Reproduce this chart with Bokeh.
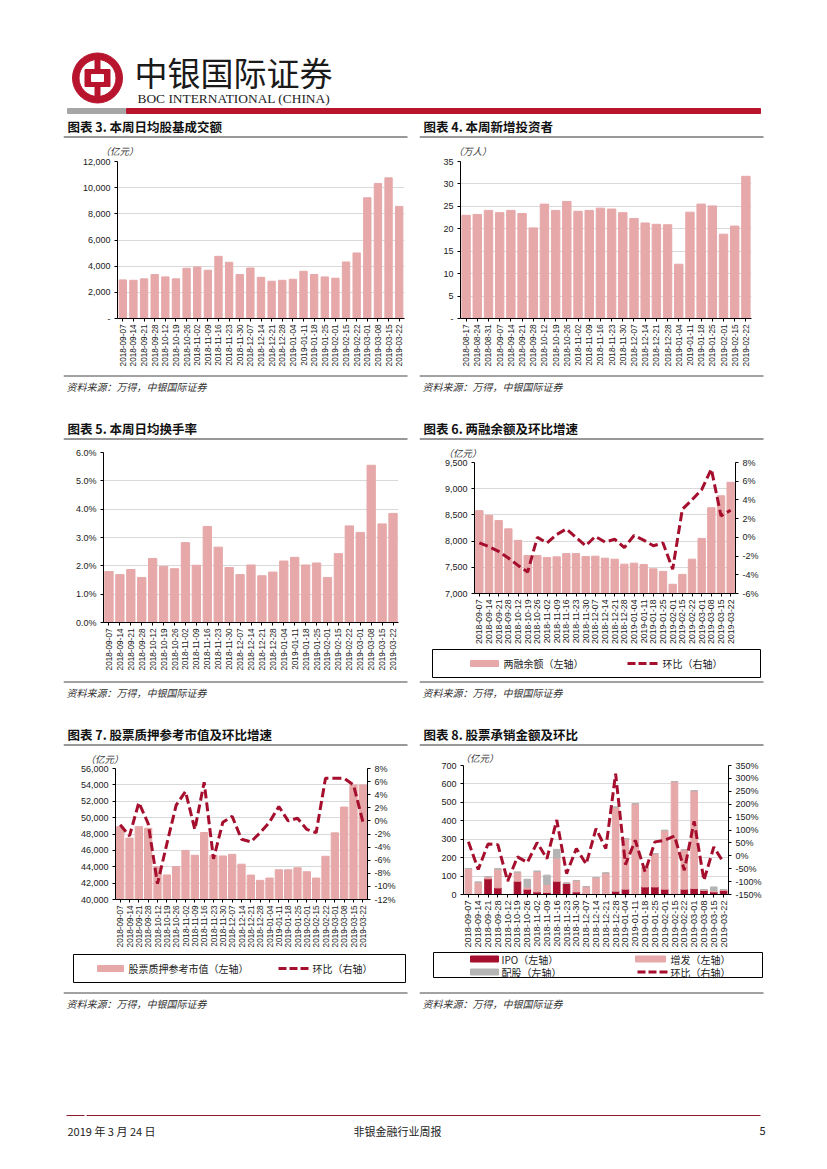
import math
from bokeh.plotting import figure
from bokeh.layouts import column, row
from bokeh.models import (FactorRange, Range1d, LinearAxis, SingleIntervalTicker,
                          NumeralTickFormatter, PrintfTickFormatter, ColumnDataSource, Spacer)
from bokeh.core.properties import value
from bokeh.embed import file_html
from bokeh.resources import INLINE

# ---------------- data ----------------
dates_a = ["2018-09-07", "2018-09-14", "2018-09-21", "2018-09-28", "2018-10-12", "2018-10-19",
           "2018-10-26", "2018-11-02", "2018-11-09", "2018-11-16", "2018-11-23", "2018-11-30",
           "2018-12-07", "2018-12-14", "2018-12-21", "2018-12-28", "2019-01-04", "2019-01-11",
           "2019-01-18", "2019-01-25", "2019-02-01", "2019-02-15", "2019-02-22", "2019-03-01",
           "2019-03-08", "2019-03-15", "2019-03-22"]
dates_b = ["2018-08-17", "2018-08-24", "2018-08-31", "2018-09-07", "2018-09-14", "2018-09-21",
           "2018-09-28", "2018-10-12", "2018-10-19", "2018-10-26", "2018-11-02", "2018-11-09",
           "2018-11-16", "2018-11-23", "2018-11-30", "2018-12-07", "2018-12-14", "2018-12-21",
           "2018-12-28", "2019-01-04", "2019-01-11", "2019-01-18", "2019-01-25", "2019-02-01",
           "2019-02-15", "2019-02-22"]

trade_amount = [2950, 2920, 3030, 3360, 3180, 3030, 3840, 3940, 3690, 4750, 4300, 3360, 3860,
                3150, 2850, 2920, 3000, 3610, 3360, 3180, 3080, 4320, 5010, 9230, 10320, 10750, 8570]
new_investors = [23.0, 23.2, 24.1, 23.6, 24.1, 23.4, 20.2, 25.5, 24.1, 26.1, 23.9, 24.1, 24.6,
                 24.4, 23.6, 22.3, 21.3, 21.0, 20.9, 12.1, 23.7, 25.5, 25.1, 18.8, 20.6, 31.7]
turnover_rate = [1.80, 1.69, 1.87, 1.59, 2.26, 1.98, 1.90, 2.82, 2.02, 3.39, 2.66, 1.94, 1.69,
                 2.03, 1.65, 1.78, 2.17, 2.30, 2.03, 2.10, 1.59, 2.43, 3.41, 3.18, 5.55, 3.48, 3.85]
margin_balance = [8581, 8492, 8392, 8234, 8014, 7724, 7724, 7686, 7699, 7762, 7762, 7705, 7712,
                  7674, 7655, 7560, 7579, 7554, 7472, 7422, 7176, 7365, 7655, 8052, 8637, 8864, 9122]
margin_chg = [-0.6, -1.0, -1.5, -2.2, -3.0, -3.7, 0.0, -0.6, 0.3, 0.9, 0.0, -0.9, 0.1,
              -0.5, -0.2, -1.1, 0.2, -0.3, -0.9, -0.6, -3.4, 3.0, 4.0, 5.1, 7.3, 2.3, 2.9]
pledge_value = [48900, 47500, 48900, 48700, 44000, 43000, 44030, 46000, 45400, 48180, 45400, 45320,
                45520, 44310, 42980, 42340, 42620, 43630, 43630, 43870, 43390, 42620, 45280, 48140,
                51290, 53990, 53990]
pledge_chg = [-0.6, -2.3, 2.8, -0.4, -9.6, -3.5, 2.4, 4.5, -1.3, 5.9, -5.8, -0.2, 0.7, -2.8,
              -3.2, -1.8, -0.2, 2.2, 0.0, 0.4, -1.3, -1.8, 6.5, 6.5, 6.5, 5.5, -0.1]
ipo = [0, 0, 85, 36, 0, 72, 29, 14, 11, 72, 61, 14, 5, 0, 0, 18, 29, 3, 41, 41, 29, 4, 29, 32, 22, 14, 22]
seo = [141, 67, 12, 103, 0, 49, 12, 112, 43, 126, 0, 62, 38, 92, 117, 456, 274, 490, 104, 181, 319,
       609, 215, 531, 5, 8, 5]
rights = [0, 0, 0, 0, 0, 0, 42, 0, 51, 47, 0, 0, 0, 0, 0, 0, 0, 0, 0, 0, 0, 0, 0, 0, 0, 19, 0]
underwrite_chg = [54, -53, 46, 43, -98, -4, -26, 51, -11, 139, -69, 28, -32, 105, 28, 318, -34, 60,
                  -62, 54, 60, 77, -56, 134, -95, 34, -26]

titles = ["图表 3. 本周日均股基成交额", "图表 4. 本周新增投资者", "图表 5. 本周日均换手率",
          "图表 6. 两融余额及环比增速", "图表 7. 股票质押参考市值及环比增速", "图表 8. 股票承销金额及环比"]
source_text = "资料来源：万得，中银国际证券"

# ---------------- styles ----------------
PINK = "#E6A8A9"
DARK_RED = "#A50F2D"
GREY = "#B4B4B4"
BRAND_RED = "#B8142E"
CJK = "Noto Sans CJK SC"
LAT = "Liberation Sans"
CELL_W = 345


def deco(w, h):
    p = figure(width=w, height=h, x_range=Range1d(0, w), y_range=Range1d(h, 0),
               output_backend="svg", toolbar_location=None, min_border=0,
               x_axis_location=None, y_axis_location=None, outline_line_color=None,
               background_fill_color="white", border_fill_color="white", frame_align=False)
    p.grid.visible = False
    p.title.visible = False
    return p


def txt(p, x, y, s, size="10px", style="normal", align="left", color="#222222", font=CJK):
    p.text(x=[x], y=[y], text=[s], text_font=value(font), text_font_size=size,
           text_font_style=style, text_baseline="middle", text_align=align, text_color=color)


def title_fig(text):
    p = deco(CELL_W, 22)
    txt(p, 4, 9.5, text, size="12.5px", style="bold", color="#111111")
    p.segment(x0=[0], y0=[20.5], x1=[CELL_W - 1], y1=[20.5], line_color="#333333", line_width=1)
    return p


def source_fig():
    p = deco(CELL_W, 24)
    p.segment(x0=[0], y0=[3.5], x1=[CELL_W - 1], y1=[3.5], line_color="#444444", line_width=1)
    txt(p, 3, 13.5, source_text, size="10px", style="italic", color="#333333")
    return p


def legend_fig(h, box, items):
    p = deco(CELL_W, h)
    x0, x1, y0, y1 = box
    p.quad(left=[x0], right=[x1], top=[y0], bottom=[y1], fill_color=None,
           line_color="black", line_width=1)
    for kind, color, sx0, sx1, sy, label, tx in items:
        if kind == "bar":
            p.quad(left=[sx0], right=[sx1], top=[sy - 3], bottom=[sy + 3], color=color)
        else:
            p.segment(x0=[sx0], y0=[sy], x1=[sx1], y1=[sy], line_color=color, line_width=3,
                      line_dash="8 3")
        txt(p, tx, sy, label, size="10px", color="#222222")
    return p


def style_axis(ax, size="9px"):
    ax.axis_line_color = "black"
    ax.axis_line_width = 1
    ax.major_tick_line_color = "black"
    ax.major_tick_out = 3
    ax.major_tick_in = 0
    ax.minor_tick_line_color = None
    ax.major_label_text_font = LAT
    ax.major_label_text_font_size = size
    ax.major_label_text_color = "#1A1A1A"
    ax.major_label_standoff = 3


def base_chart(h, factors, yr, step, borders, date_size):
    l, r, t, b = borders
    p = figure(width=CELL_W, height=h, x_range=FactorRange(factors=factors, range_padding=0),
               y_range=Range1d(*yr), output_backend="svg", toolbar_location=None,
               min_border_left=l, min_border_right=r, min_border_top=t, min_border_bottom=b,
               outline_line_color=None, background_fill_color="white", border_fill_color="white",
               frame_align=False)
    p.xgrid.grid_line_color = None
    p.ygrid.grid_line_color = "#D9D9D9"
    p.yaxis.ticker = SingleIntervalTicker(interval=step)
    for ax in list(p.xaxis) + list(p.yaxis):
        style_axis(ax)
    p.xaxis.major_label_orientation = math.pi / 2
    p.xaxis.major_label_text_font_size = date_size
    p.title.visible = False
    return p


def unit_label(p, text, offset, standoff):
    p.title.visible = True
    p.title.text = text
    p.title.align = "left"
    p.title.offset = offset
    p.title.standoff = standoff
    p.title.text_font = CJK
    p.title.text_font_size = "9.5px"
    p.title.text_font_style = "italic"
    p.title.text_color = "#333333"


def right_axis(p, rng, step, fmt):
    p.extra_y_ranges = {"r": Range1d(*rng)}
    ax = LinearAxis(y_range_name="r", ticker=SingleIntervalTicker(interval=step),
                    formatter=PrintfTickFormatter(format=fmt))
    style_axis(ax)
    p.add_layout(ax, "right")
    return ax


# ---------------- header ----------------
header = deco(820, 116)
header.annulus(x=[97], y=[77.5], inner_radius=18.5, outer_radius=25, color=BRAND_RED)
header.rect(x=[97], y=[77.5], width=5, height=46, color=BRAND_RED)
header.rect(x=[97], y=[77.5], width=25, height=17, color=BRAND_RED)
header.rect(x=[97], y=[77.5], width=12, height=7, color="white")
txt(header, 134, 71, "中银国际证券", size="33px", color="#1A1A1A")
txt(header, 137, 98, "BOC INTERNATIONAL (CHINA)", size="13.4px", color="#222222",
    font="Liberation Serif")
header.quad(left=[67], right=[125], top=[108], bottom=[113], color="#A6A6A6")
header.quad(left=[126], right=[760], top=[108], bottom=[113], color=BRAND_RED)

# ---------------- chart 3 ----------------
c3 = base_chart(234, dates_a, (0, 12000), 2000, (54, 4, 23, 54), "8.2px")
c3.yaxis.formatter = NumeralTickFormatter(format="0,0")
c3.yaxis.major_label_overrides = {0: "-"}
c3.vbar(x=dates_a, top=trade_amount, width=0.69, color=PINK)
unit_label(c3, "（亿元）", -17, 7)

# ---------------- chart 4 ----------------
c4 = base_chart(234, dates_b, (0, 35), 5, (41, 13, 23, 54), "8.2px")
c4.yaxis.major_label_overrides = {0: "-"}
c4.vbar(x=dates_b, top=new_investors, width=0.75, color=PINK)
unit_label(c4, "（万人）", -7, 7)

# ---------------- chart 5 ----------------
c5 = base_chart(238, dates_a, (0, 6), 1, (40, 10, 12, 56), "8.2px")
c5.yaxis.formatter = PrintfTickFormatter(format="%.1f%%")
c5.vbar(x=dates_a, top=turnover_rate, width=0.76, color=PINK)

# ---------------- chart 6 ----------------
c6 = base_chart(206, dates_a, (7000, 9500), 500, (55, 29, 22, 51), "8.7px")
c6.yaxis.formatter = NumeralTickFormatter(format="0,0")
right_axis(c6, (-6, 8), 2, "%d%%")
c6.vbar(x=dates_a, top=margin_balance, width=0.76, color=PINK)
c6.line(x=dates_a, y=margin_chg, y_range_name="r", line_color=DARK_RED, line_width=3,
        line_dash="9 4")
unit_label(c6, "（亿元）", -31, 6)
lg6 = legend_fig(32, (13, 341, 3, 31), [
    ("bar", PINK, 51, 79, 17, "两融余额（左轴）", 84),
    ("line", DARK_RED, 208, 239, 17, "环比（右轴）", 243)])

# ---------------- chart 7 ----------------
c7 = base_chart(204, dates_a, (40000, 56000), 2000, (52, 41, 22, 49), "8.2px")
c7.yaxis.formatter = NumeralTickFormatter(format="0,0")
right_axis(c7, (-12, 8), 2, "%d%%")
c7.vbar(x=dates_a, top=pledge_value, width=0.78, color=PINK)
c7.line(x=dates_a, y=pledge_chg, y_range_name="r", line_color=DARK_RED, line_width=3,
        line_dash="9 4")
unit_label(c7, "（亿元）", -30, 5)
lg7 = legend_fig(39, (10, 342, 4, 32), [
    ("bar", PINK, 34, 60, 18, "股票质押参考市值（左轴）", 65),
    ("line", DARK_RED, 215, 245, 18, "环比（右轴）", 249)])

# ---------------- chart 8 ----------------
src8 = ColumnDataSource(dict(d=dates_a, ipo=ipo, seo=seo, rights=rights))
c8 = base_chart(204, dates_a, (0, 700), 100, (44, 34, 19, 56), "9.2px")
right_axis(c8, (-150, 350), 50, "%d%%")
c8.vbar_stack(["ipo", "seo", "rights"], x="d", width=0.67, color=[DARK_RED, PINK, GREY],
              source=src8)
c8.line(x=dates_a, y=underwrite_chg, y_range_name="r", line_color=DARK_RED, line_width=3,
        line_dash="9 4")
unit_label(c8, "（亿元）", -3, 2)
lg8 = legend_fig(39, (14, 343, 2, 27), [
    ("bar", DARK_RED, 51, 79, 8.5, "IPO（左轴）", 82),
    ("bar", PINK, 216, 246, 8.5, "增发（左轴）", 251),
    ("bar", GREY, 51, 79, 21.5, "配股（左轴）", 82),
    ("line", DARK_RED, 218, 248, 21.5, "环比（右轴）", 251)])

# ---------------- footer ----------------
footer = deco(820, 132)
footer.segment(x0=[66, 86], y0=[102, 102], x1=[84, 760], y1=[102, 102], line_color="#8C1D2B",
               line_width=1)
txt(footer, 67, 117, "2019 年 3 月 24 日", size="11px")
txt(footer, 397, 117, "非银金融行业周报", size="11px", align="center")
txt(footer, 765, 117, "5", size="11px", align="right")


def cell(i, *figs):
    return column(title_fig(titles[i]), *figs, source_fig(), spacing=0)


def chart_row(a, b):
    return row(Spacer(width=63), a, Spacer(width=11), b, spacing=0)


page = column(header,
              chart_row(cell(0, c3), cell(1, c4)),
              Spacer(height=22),
              chart_row(cell(2, c5), cell(3, c6, lg6)),
              Spacer(height=22),
              chart_row(cell(4, c7, lg7), cell(5, c8, lg8)),
              footer, spacing=0)

open("out.html", "w").write(file_html(page, INLINE))
